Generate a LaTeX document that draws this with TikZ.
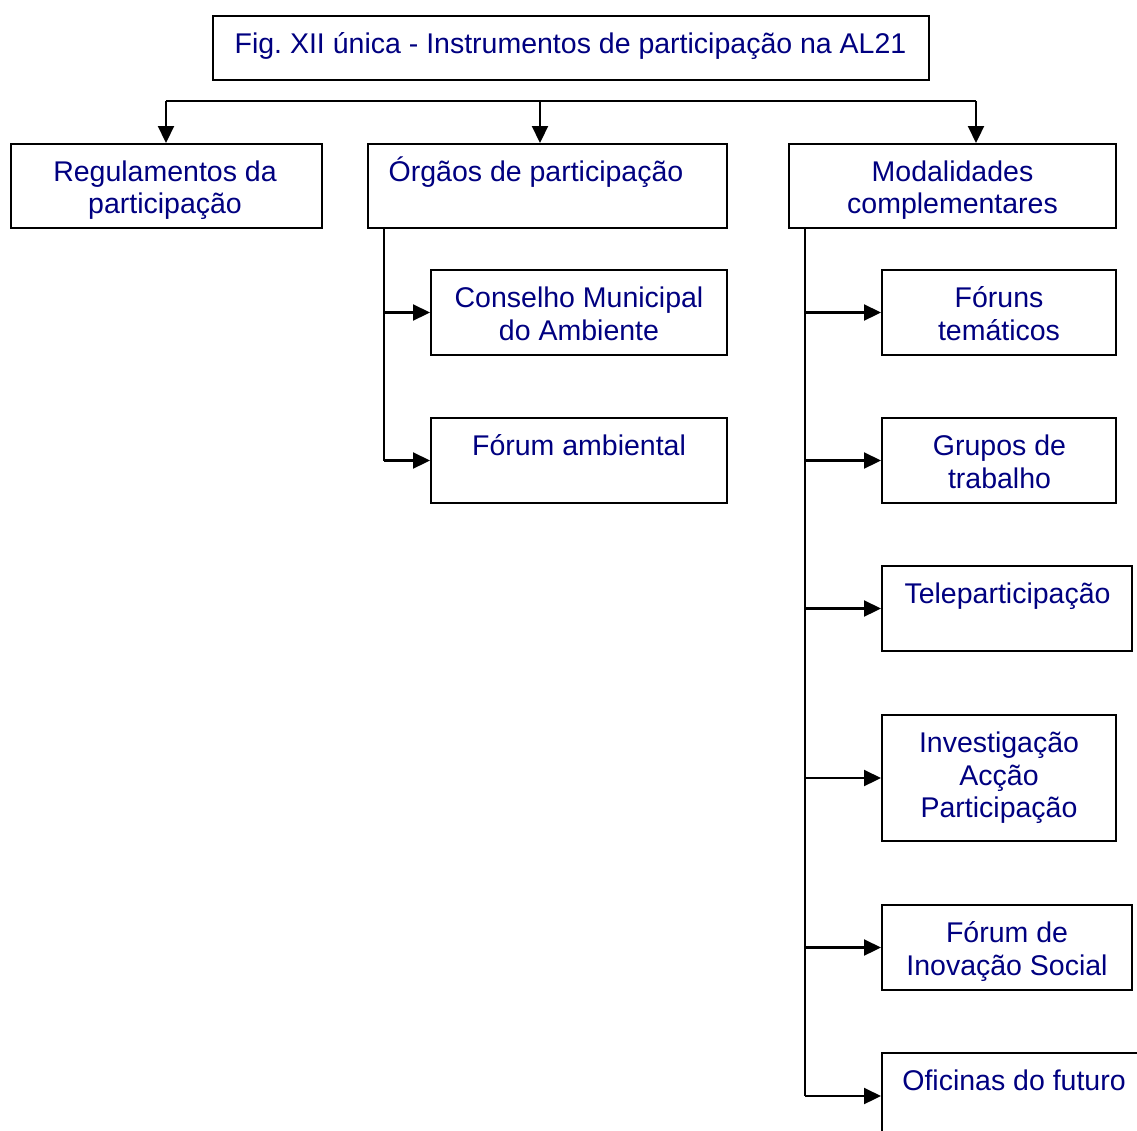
\documentclass[tikz,border=0pt]{standalone}
\usepackage{fontspec}
\setmainfont{Liberation Sans}
\usetikzlibrary{arrows.meta}
\definecolor{navy}{RGB}{0,0,128}
\frenchspacing
\newcommand\boxtext[2][320pt]{\parbox[t]{#1}{\centering #2}}
\begin{document}
\begin{tikzpicture}[x=1pt,y=-1pt,
  box/.style={draw=black, line width=2pt, fill=white, inner sep=0pt},
  lbl/.style={text=navy, inner sep=0pt, anchor=base,
    font=\fontsize{28.5}{32.5}\selectfont},
  link/.style={draw=black, line width=2.2pt},
  arr/.style={link, -{Triangle[length=17pt,width=16pt]}}]
\clip (0,0) rectangle (1137,1130);
\fill[white] (0,0) rectangle (1137,1130);

% boxes: centre, width, height
\node[box, minimum width=716, minimum height=64] (title) at (571,48) {};
\node[box, minimum width=311, minimum height=84] (reg)  at (166.5,186) {};
\node[box, minimum width=359, minimum height=84] (org)  at (547.5,186) {};
\node[box, minimum width=327, minimum height=84] (mod)  at (952.5,186) {};
\node[box, minimum width=296, minimum height=85] (cons) at (579,312.5) {};
\node[box, minimum width=296, minimum height=85] (fam)  at (579,460.5) {};
\node[box, minimum width=234, minimum height=85] (ft)   at (999,312.5) {};
\node[box, minimum width=234, minimum height=85] (gt)   at (999,460.5) {};
\node[box, minimum width=250, minimum height=85] (tele) at (1007,608.5) {};
\node[box, minimum width=234, minimum height=126] (iap) at (999,778) {};
\node[box, minimum width=250, minimum height=85] (fis)  at (1007,947.5) {};
\node[box, minimum width=268, minimum height=86] (ofi)  at (1016,1096) {};

% texts (first baseline)
\node[lbl] (ttitle) at (570.5,53.5) {\boxtext[800pt]{Fig. XII única - Instrumentos de participação na AL21}};
\node[lbl] (treg)  at (165,181) {\boxtext{Regulamentos da\\participação}};
\node[lbl] (torg)  at (536,181) {\boxtext{Órgãos de participação}};
\node[lbl] (tmod)  at (952.5,181) {\boxtext{Modalidades\\complementares}};
\node[lbl] (tcons) at (579,307.5) {\boxtext{Conselho Municipal\\do Ambiente}};
\node[lbl] (tfam)  at (579,455.5) {\boxtext{Fórum ambiental}};
\node[lbl] (tft)   at (999,307.5) {\boxtext{Fóruns\\temáticos}};
\node[lbl] (tgt)   at (999.5,455.5) {\boxtext{Grupos de\\trabalho}};
\node[lbl] (ttele) at (1007.5,603.5) {\boxtext{Teleparticipação}};
\node[lbl] (tiap)  at (999,752.5) {\boxtext{Investigação\\Acção\\Participação}};
\node[lbl] (tfis)  at (1007,942.5) {\boxtext{Fórum de\\Inovação Social}};
\node[lbl] (tofi)  at (1014,1090.5) {\boxtext{Oficinas do futuro}};

% top distribution bar
\coordinate (tL) at (166,101);
\coordinate (tM) at (540,101);
\coordinate (tR) at (976,101);
\draw[link] (tL) -- (tR);
\draw[arr] (tL) -- (tL |- reg.north);
\draw[arr] (tM) -- (tM |- org.north);
\draw[arr] (tR) -- (tR |- mod.north);

% bus under the participation bodies
\coordinate (ox) at (384,0);
\draw[link] (org.south -| ox) -- (fam.west -| ox);
\draw[arr] (cons.west -| ox) -- (cons.west);
\draw[arr] (fam.west -| ox) -- (fam.west);

% bus under the complementary modalities
\coordinate (mx) at (805,0);
\draw[link] (mod.south -| mx) -- (ofi.west -| mx);
\draw[arr] (ft.west -| mx) -- (ft.west);
\draw[arr] (gt.west -| mx) -- (gt.west);
\draw[arr] (tele.west -| mx) -- (tele.west);
\draw[arr] (iap.west -| mx) -- (iap.west);
\draw[arr] (fis.west -| mx) -- (fis.west);
\draw[arr] (ofi.west -| mx) -- (ofi.west);
\end{tikzpicture}
\end{document}
